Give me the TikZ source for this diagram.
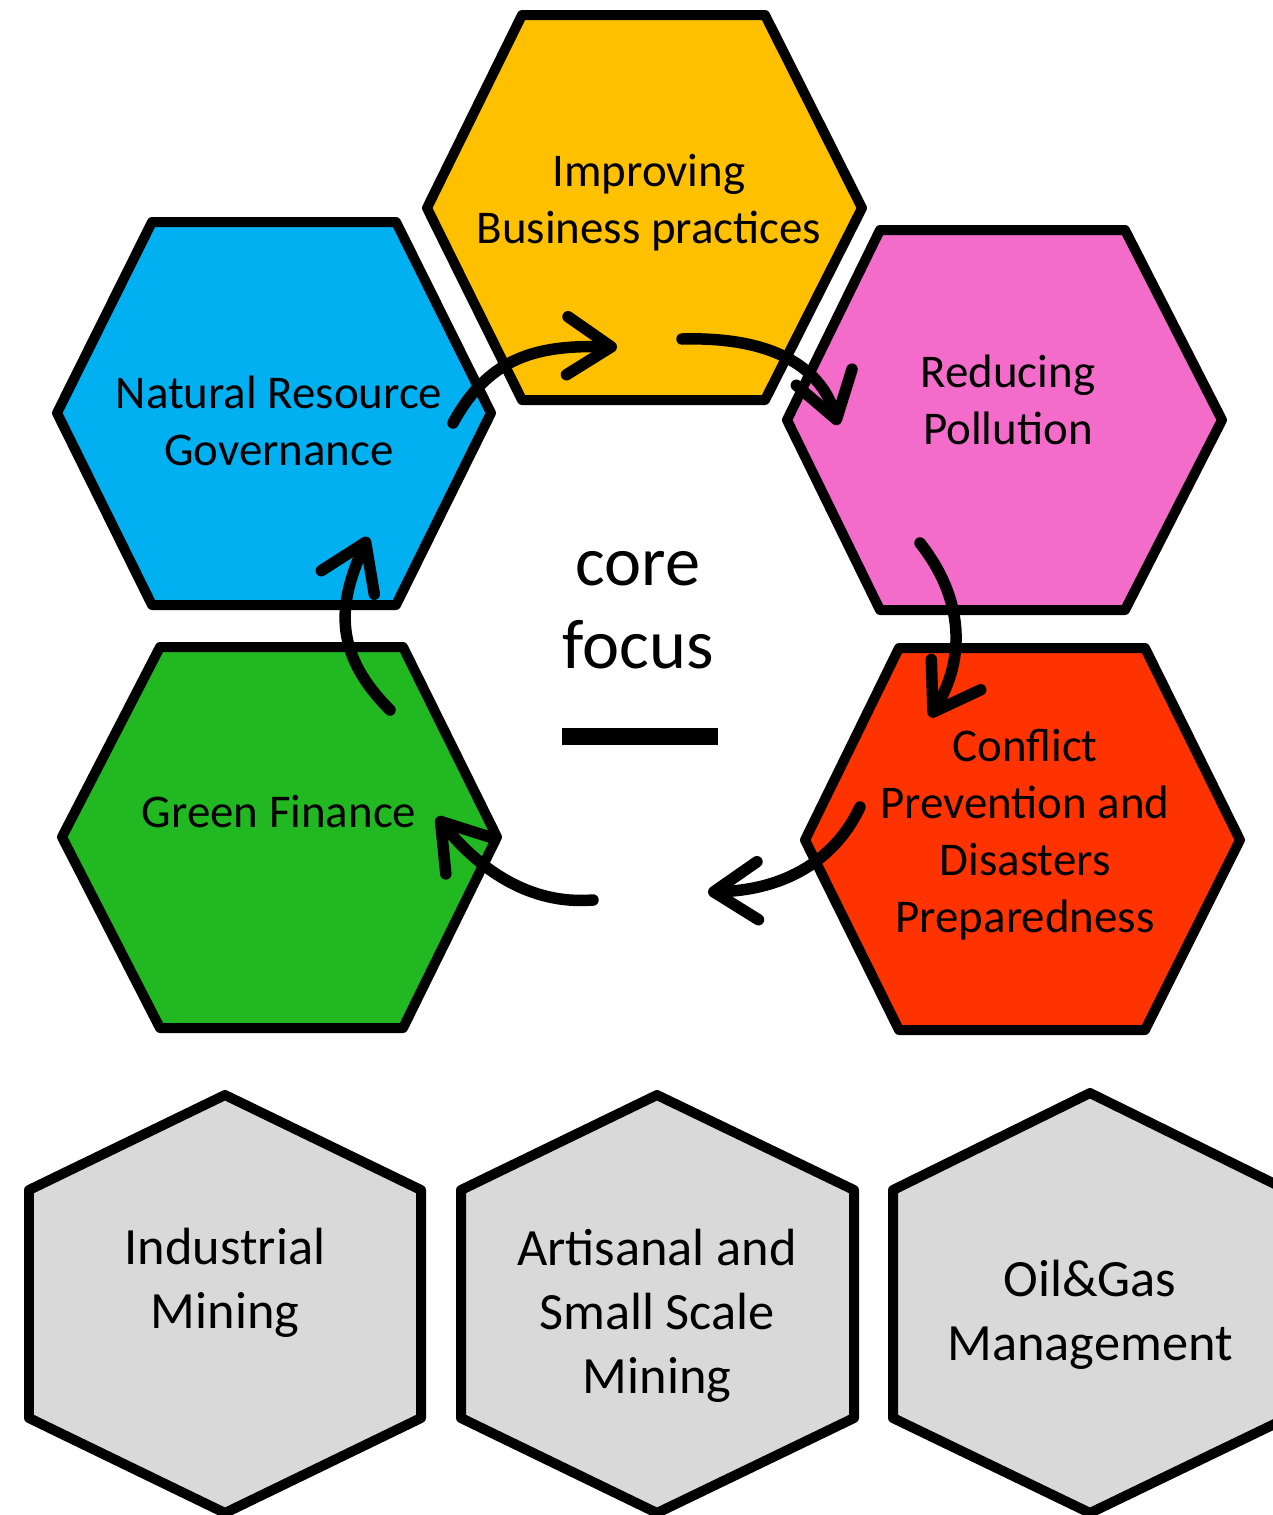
\documentclass[tikz,border=0pt]{standalone}
\usepackage{fontspec}
\setmainfont{Carlito}
\usetikzlibrary{arrows.meta}
\definecolor{hexyellow}{HTML}{FFC000}
\definecolor{hexblue}{HTML}{00B0F0}
\definecolor{hexpink}{HTML}{F36CC9}
\definecolor{hexgreen}{HTML}{21B821}
\definecolor{hexred}{HTML}{FF3300}
\definecolor{hexgrey}{HTML}{D9D9D9}
\begin{document}
\begin{tikzpicture}[x=0.02cm,y=-0.02cm,
  hexline/.style={draw=black,line width=0.2cm,line join=round},
  lbl/.style={align=center,anchor=base,font=\fontsize{26.7}{32.4}\selectfont,inner sep=0pt},
  lblbig/.style={align=center,anchor=base,font=\fontsize{29.8}{36.4}\selectfont,inner sep=0pt},
  flow/.style={line width=0.23cm,line cap=round,line join=round,
    -{Straight Barb[length=0.88cm,width=1.16cm,round]}}]
\clip (0,0) rectangle (1273,1515);
\fill[white] (0,0) rectangle (1273,1515);
% top ring of hexagons
\filldraw[hexline,fill=hexyellow] (522,15) -- (765,15) -- (862,208) -- (765,400) -- (522,400) -- (427,208) -- cycle;
\filldraw[hexline,fill=hexblue] (152,222) -- (396,222) -- (491,413) -- (396,605) -- (152,605) -- (57,413) -- cycle;
\filldraw[hexline,fill=hexpink] (880,230) -- (1125,230) -- (1222,420) -- (1125,610) -- (880,610) -- (787,420) -- cycle;
\filldraw[hexline,fill=hexgreen] (160,647) -- (403,647) -- (497,837) -- (403,1028) -- (160,1028) -- (62,837) -- cycle;
\filldraw[hexline,fill=hexred] (899,648) -- (1145,648) -- (1240,840) -- (1145,1030) -- (899,1030) -- (805,840) -- cycle;
% bottom hexagons
\filldraw[hexline,fill=hexgrey] (225,1095) -- (421,1190) -- (421,1418) -- (225,1513) -- (29,1418) -- (29,1190) -- cycle;
\filldraw[hexline,fill=hexgrey] (657,1095) -- (854,1190) -- (854,1418) -- (657,1513) -- (461,1418) -- (461,1190) -- cycle;
\filldraw[hexline,fill=hexgrey] (1090,1093) -- (1287,1190) -- (1287,1418) -- (1090,1513) -- (893,1418) -- (893,1190) -- cycle;
% labels (anchor base = baseline of the last line)
\node[lbl] (t1) at (649,243) {Improving\\Business practices};
\node[lbl] (t2) at (279,465) {Natural Resource\\Governance};
\node[lbl] (t3) at (1008,444) {Reducing\\Pollution};
\node[lbl] (t4) at (1025,932) {Conflict\\Prevention and\\Disasters\\Preparedness};
\node[lbl] (t5) at (279,827) {Green Finance};
\node[lblbig] (b1) at (225,1328) {Industrial\\Mining};
\node[lblbig] (b2) at (657,1393) {Artisanal and\\Small Scale\\Mining};
\node[lblbig] (b3) at (1090,1360) {Oil\&Gas\\Management};
\node[align=center,anchor=base,font=\fontsize{40}{47.2}\selectfont,inner sep=0pt] (core) at (638,668) {core\\focus};
\fill[black] (562,728) rectangle (718,745);
% arrow end points
\coordinate (a1s) at (453,423); \coordinate (a1e) at (617,347);
\coordinate (a2s) at (682,339); \coordinate (a2e) at (838,425);
\coordinate (a3s) at (920,543); \coordinate (a3e) at (930,717);
\coordinate (a4s) at (860,807); \coordinate (a4e) at (708,892);
\coordinate (a5s) at (593,900); \coordinate (a5e) at (437,817);
\coordinate (a6s) at (390,710); \coordinate (a6e) at (368,537);
\draw[flow] (a1s) .. controls (490,355) and (540,345) .. (a1e);
\draw[flow] (a2s) .. controls (790,336) and (825,380) .. (a2e);
\draw[flow] (a3s) .. controls (965,600) and (965,660) .. (a3e);
\draw[flow] (a4s) .. controls (835,860) and (785,890) .. (a4e);
\draw[flow] (a5s) .. controls (530,905) and (480,870) .. (a5e);
\draw[flow] (a6s) .. controls (330,650) and (340,600) .. (a6e);
\end{tikzpicture}
\end{document}
